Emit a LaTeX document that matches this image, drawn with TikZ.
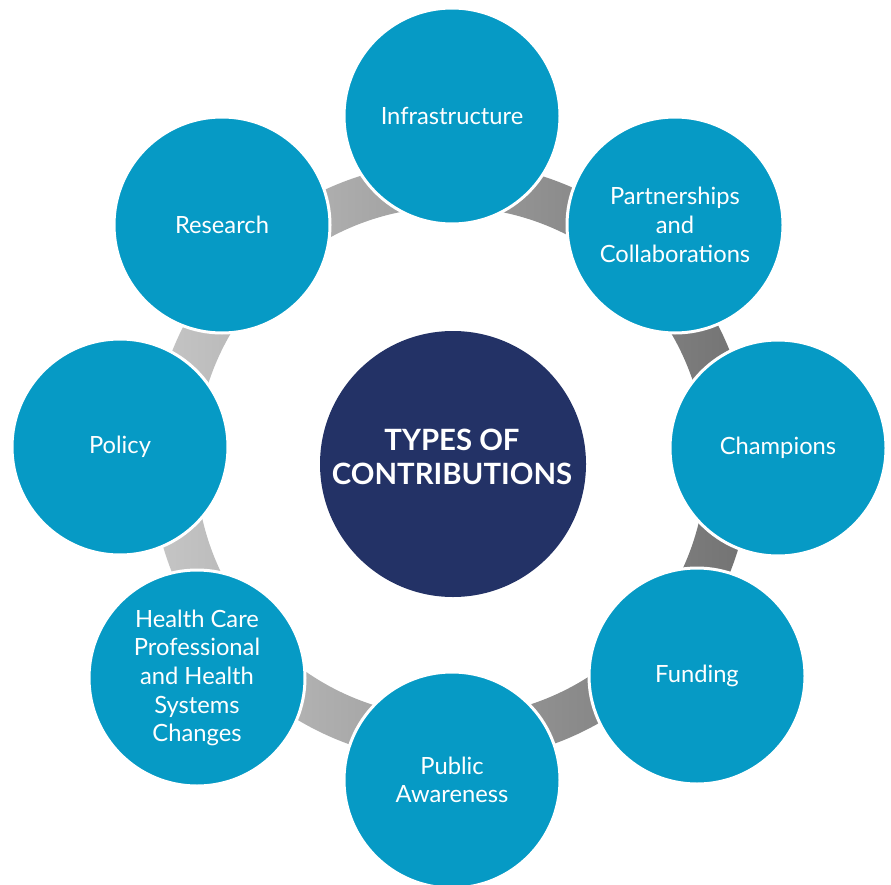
\documentclass[tikz,border=0pt]{standalone}
\usepackage{fontspec}
\setmainfont{Lato}
\definecolor{ringblue}{HTML}{069AC5}
\definecolor{hubnavy}{HTML}{233266}
\definecolor{bandlight}{HTML}{C6C6C6}
\definecolor{banddark}{HTML}{727272}

\begin{document}
\begin{tikzpicture}[x=0.75pt,y=-0.75pt,
    topic/.style={circle,fill=ringblue,draw=white,line width=2.25pt,minimum size=162pt,inner sep=0pt,
      text=white,align=center,font=\fontsize{17.8}{21.5}\selectfont},
    hub/.style={circle,fill=hubnavy,minimum size=199.5pt,inner sep=0pt},
    hubtext/.style={text=white,align=center,inner sep=0pt,font=\bfseries\fontsize{22}{25.5}\selectfont}]
        \useasboundingbox (0,0) rectangle (891,884);

        \coordinate (R) at (451,462);
        \coordinate (I) at (452,116);
        \coordinate (P) at (675,225);
        \coordinate (C) at (778,448);
        \coordinate (F) at (697,676);
        \coordinate (A) at (452,780);
        \coordinate (H) at (197,678);
        \coordinate (Y) at (120,447);
        \coordinate (S) at (222,225);

        % grey ring behind the circles
        \shade[left color=bandlight,right color=banddark,even odd rule]
            (R) circle[radius=225pt] (R) circle[radius=191.25pt];

        \node[hub] (types) at (453,464) {};
        \node[hubtext] (typeslabel) at (452,457) {TYPES OF\\CONTRIBUTIONS};

        \node[topic] (infra)    at (I) {Infrastructure};
        \node[topic] (partner)  at (P) {Partnerships\\and\\Collaborations};
        \node[topic] (champ)    at (C) {Champions};
        \node[topic] (funding)  at (F) {Funding};
        \node[topic] (public)   at (A) {Public\\Awareness};
        \node[topic] (health)   at (H) {Health Care\\Professional\\and Health\\Systems\\Changes};
        \node[topic] (policy)   at (Y) {Policy};
        \node[topic] (research) at (S) {Research};
    \end{tikzpicture}
\end{document}
